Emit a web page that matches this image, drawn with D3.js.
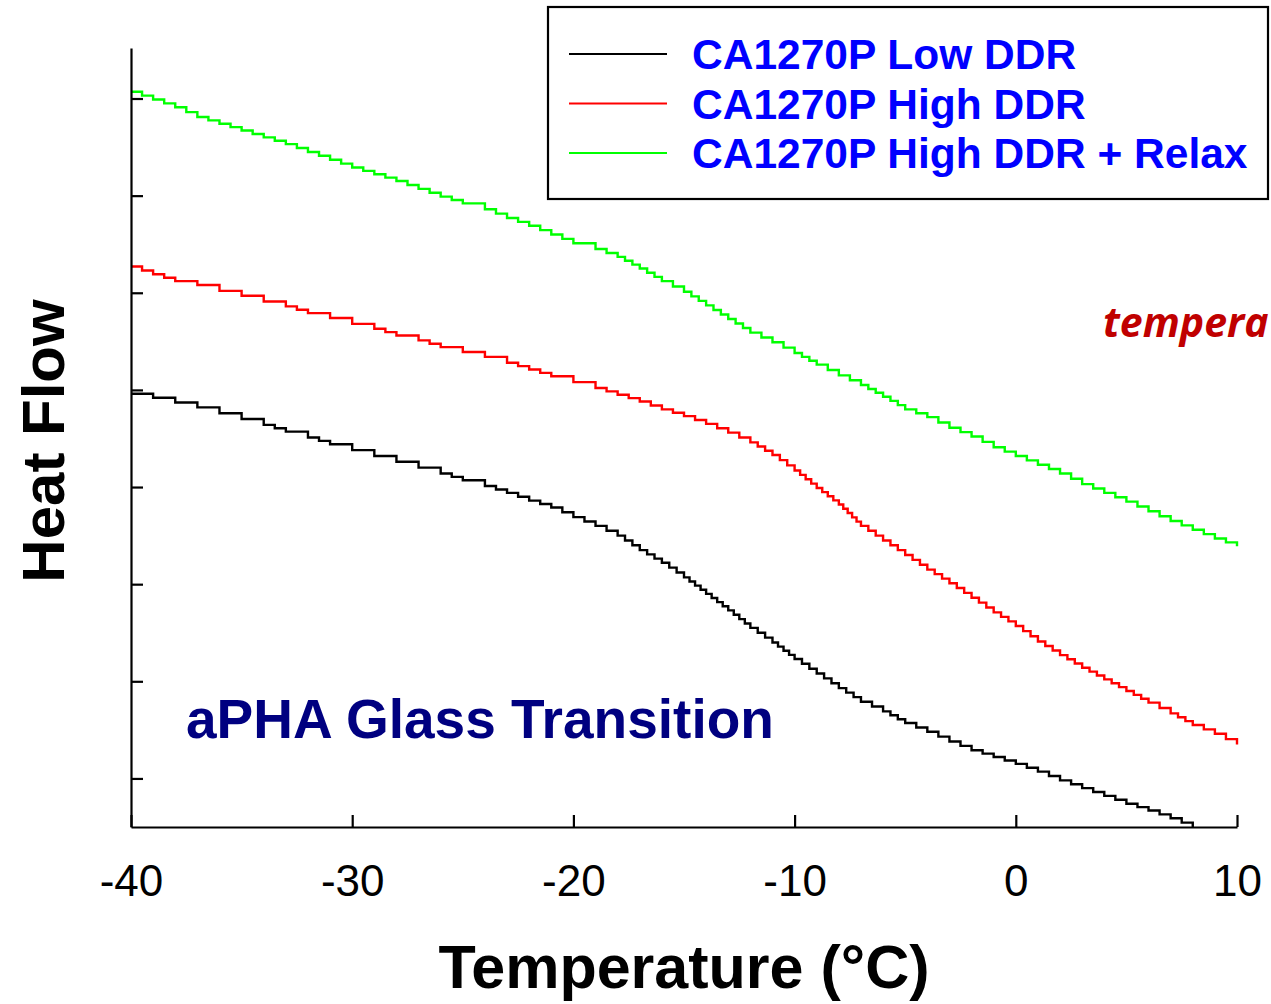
<!DOCTYPE html>
<html>
<head>
<meta charset="utf-8">
<script src="https://cdn.jsdelivr.net/npm/d3@7"></script>
<style>
  body { margin: 0; background: #fff; }
  svg { display: block; }
</style>
</head>
<body>
<div id="chart"></div>
<script>
// Temperature grid (°C), one reading per degree
var temps = d3.range(-40, 11, 1);

// Heat flow readings (arbitrary units)
var lowDDR = [4.46, 4.42, 4.37, 4.32, 4.26, 4.20, 4.14, 4.07, 4.01, 3.94,
  3.88, 3.82, 3.76, 3.70, 3.64, 3.57, 3.51, 3.44, 3.36, 3.29,
  3.19, 3.10, 3.00, 2.85, 2.72, 2.57, 2.40, 2.23, 2.05, 1.90,
  1.73, 1.58, 1.43, 1.29, 1.19, 1.07, 0.98, 0.88, 0.79, 0.72,
  0.65, 0.57, 0.48, 0.40, 0.32, 0.24, 0.17, 0.09, 0.00];

var highDDR = [5.77, 5.69, 5.62, 5.58, 5.52, 5.47, 5.41, 5.36, 5.29, 5.24,
  5.18, 5.13, 5.06, 5.01, 4.94, 4.89, 4.84, 4.78, 4.71, 4.64,
  4.58, 4.52, 4.45, 4.38, 4.30, 4.23, 4.15, 4.06, 3.96, 3.83,
  3.67, 3.49, 3.32, 3.10, 2.95, 2.80, 2.65, 2.51, 2.36, 2.21,
  2.07, 1.91, 1.77, 1.64, 1.52, 1.40, 1.28, 1.17, 1.05, 0.96, 0.85];

var highDDRRelax = [7.57, 7.49, 7.41, 7.31, 7.24, 7.17, 7.10, 7.03, 6.95, 6.87,
  6.79, 6.72, 6.65, 6.57, 6.49, 6.42, 6.36, 6.27, 6.19, 6.10,
  6.01, 5.95, 5.87, 5.75, 5.62, 5.51, 5.37, 5.23, 5.09, 4.99,
  4.88, 4.76, 4.65, 4.55, 4.43, 4.30, 4.22, 4.11, 4.02, 3.91,
  3.82, 3.73, 3.64, 3.53, 3.44, 3.35, 3.25, 3.15, 3.06, 2.97, 2.89];

var seriesNames = ["CA1270P Low DDR", "CA1270P High DDR", "CA1270P High DDR + Relax"];
var seriesColors = ["#000000", "#ff0000", "#00ff00"];
var xTicks = [-40, -30, -20, -10, 0, 10];
var yTicks = [0.5, 1.5, 2.5, 3.5, 4.5, 5.5, 6.5, 7.5];

var width = 1271, height = 1004;

var svg = d3.select("#chart")
  .append("svg")
  .attr("width", width)
  .attr("height", height)
  .style("font-family", "'Liberation Sans', Arial, sans-serif");

var x = d3.scaleLinear().domain([-40, 10]).range([131, 1237]);
var y = d3.scaleLinear().domain([0, 8.02]).range([827, 48]);

// series -> point lists
var allSeries = [lowDDR, highDDR, highDDRRelax].map(function(vals, i) {
  return {
    name: seriesNames[i],
    color: seriesColors[i],
    points: vals.map(function(v, j) { return { t: temps[j], v: v }; })
  };
});

// the instrument trace is quantised: draw each segment as small even stairs
var riser = 4.5;
function StairCurve(context) { this._context = context; }
StairCurve.prototype = {
  areaStart: function() { this._line = 0; },
  areaEnd: function() { this._line = NaN; },
  lineStart: function() { this._x = this._y = NaN; this._point = 0; },
  lineEnd: function() {
    if (this._line || (this._line !== 0 && this._point === 1)) this._context.closePath();
    this._line = 1 - this._line;
  },
  point: function(px, py) {
    px = +px; py = +py;
    if (this._point === 0) {
      this._point = 1;
      this._line ? this._context.lineTo(px, py) : this._context.moveTo(px, py);
    } else {
      this._point = 2;
      var n = Math.max(1, Math.round(Math.abs(py - this._y) / riser));
      var prevY = this._y;
      for (var k = 1; k <= n; k++) {
        var xs = this._x + (px - this._x) * k / n;
        var ys = this._y + (py - this._y) * k / n;
        this._context.lineTo(xs, prevY);
        this._context.lineTo(xs, ys);
        prevY = ys;
      }
    }
    this._x = px; this._y = py;
  }
};
function curveStairs(context) { return new StairCurve(context); }

var line = d3.line()
  .curve(curveStairs)
  .x(function(d) { return x(d.t); })
  .y(function(d) { return y(d.v); });

svg.selectAll(".series")
  .data(allSeries)
  .enter()
  .append("path")
  .attr("class", "series")
  .attr("d", function(d) { return line(d.points); })
  .attr("fill", "none")
  .attr("stroke", function(d) { return d.color; })
  .attr("stroke-width", 2.4);

// axes (ticks point inward)
var xAxis = svg.append("g")
  .attr("transform", "translate(0," + y(0) + ")")
  .call(d3.axisBottom(x)
    .tickValues(xTicks)
    .tickFormat(function(d) { return String(d); })
    .tickSizeInner(-12).tickSizeOuter(0).tickPadding(38));

var yAxis = svg.append("g")
  .attr("transform", "translate(" + x(-40) + ",0)")
  .call(d3.axisLeft(y).tickValues(yTicks).tickSizeInner(-12).tickSizeOuter(0).tickFormat(""));

[xAxis, yAxis].forEach(function(g) {
  g.select(".domain").attr("stroke", "#000").attr("stroke-width", 2.2);
  g.selectAll(".tick line").attr("stroke", "#000").attr("stroke-width", 2.2);
});

xAxis.selectAll(".tick text")
  .attr("fill", "#000")
  .style("font-size", "44px")
  .style("font-family", "'Liberation Sans', Arial, sans-serif");

// axis titles
svg.append("text")
  .attr("x", (x(-40) + x(10)) / 2)
  .attr("y", 988)
  .attr("text-anchor", "middle")
  .style("font-size", "61px")
  .style("font-weight", "bold")
  .text("Temperature (°C)");

svg.append("text")
  .attr("transform", "translate(64,441) rotate(-90)")
  .attr("text-anchor", "middle")
  .style("font-size", "60px")
  .style("font-weight", "bold")
  .text("Heat Flow");

// annotations
svg.append("text")
  .attr("x", 186)
  .attr("y", 738)
  .attr("fill", "#000080")
  .style("font-size", "55px")
  .style("font-weight", "bold")
  .text("aPHA Glass Transition");

svg.append("text")
  .attr("x", 1103)
  .attr("y", 337)
  .attr("fill", "#c00000")
  .style("font-family", "'Open Sans', sans-serif")
  .style("font-size", "41px")
  .style("font-weight", "bold")
  .style("font-style", "italic")
  .text("tempera");

// legend
var legend = svg.append("g");

legend.append("rect")
  .attr("x", 548)
  .attr("y", 7)
  .attr("width", 720)
  .attr("height", 192)
  .attr("fill", "#fff")
  .attr("stroke", "#000")
  .attr("stroke-width", 2.2);

var rows = legend.selectAll(".row")
  .data(allSeries)
  .enter()
  .append("g")
  .attr("class", "row")
  .attr("transform", function(d, i) { return "translate(0," + (54 + i * 49.5) + ")"; });

rows.append("line")
  .attr("x1", 569)
  .attr("x2", 667)
  .attr("stroke", function(d) { return d.color; })
  .attr("stroke-width", 2);

rows.append("text")
  .attr("x", 692)
  .attr("y", 15)
  .attr("fill", "#0000ff")
  .style("font-size", "42.5px")
  .style("font-weight", "bold")
  .text(function(d) { return d.name; });
</script>
</body>
</html>
